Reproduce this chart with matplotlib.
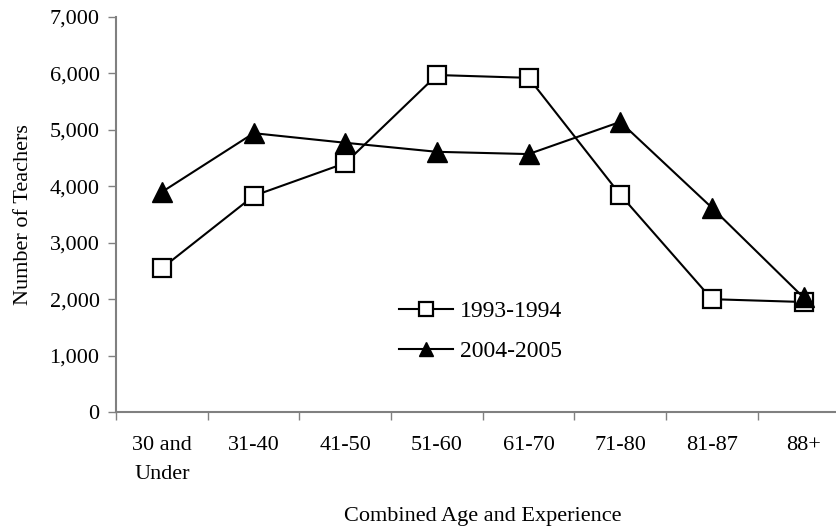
import matplotlib.pyplot as plt
from matplotlib.ticker import FuncFormatter, FixedLocator

# Data
categories = ['30 and\nUnder', '31-40', '41-50', '51-60', '61-70', '71-80', '81-87', '88+']
teachers_1993 = [2550, 3830, 4410, 5970, 5920, 3850, 2000, 1950]
teachers_2004 = [3900, 4940, 4770, 4610, 4570, 5140, 3620, 2030]

plt.rcParams['font.family'] = ['Liberation Serif', 'DejaVu Serif']

fig = plt.figure(figsize=(8.36, 5.27), dpi=100)
ax = fig.add_axes([0.139, 0.218, 0.877, 0.75])

x = range(len(categories))
ax.plot(x, teachers_1993, color='black', linewidth=1.5, marker='s', markersize=13.5,
        markerfacecolor='white', markeredgecolor='black', markeredgewidth=1.6,
        label='1993-1994', clip_on=False)
ax.plot(x, teachers_2004, color='black', linewidth=1.5, marker='^', markersize=15,
        markerfacecolor='black', markeredgecolor='black',
        label='2004-2005', clip_on=False)

ax.set_xlim(-0.5, len(categories) - 0.5)
ax.set_ylim(0, 7000)
ax.set_yticks(range(0, 7001, 1000))
ax.yaxis.set_major_formatter(FuncFormatter(lambda v, p: f'{int(v):,}'))

ax.set_xticks(list(x))
ax.set_xticklabels(categories, fontsize=16, linespacing=1.75)
ax.xaxis.set_minor_locator(FixedLocator([i - 0.5 for i in range(len(categories) + 1)]))
ax.tick_params(axis='x', which='major', length=0, pad=17)
ax.tick_params(axis='x', which='minor', length=6, width=1, color='#808080', direction='out')
ax.tick_params(axis='y', labelsize=16, length=6, width=1, color='#808080', pad=6)

for side in ['top', 'right']:
    ax.spines[side].set_visible(False)
for side in ['left', 'bottom']:
    ax.spines[side].set_color('#808080')
    ax.spines[side].set_linewidth(1.5)

ax.set_ylabel('Number of Teachers', fontsize=16, labelpad=12)
ax.set_xlabel('Combined Age and Experience', fontsize=16, va='center')
ax.xaxis.set_label_coords(0.5, -0.264)

ax.legend(loc='center', bbox_to_anchor=(0.497, 0.205), frameon=False, fontsize=17,
          handlelength=2.3, markerscale=0.7, labelspacing=0.78, handletextpad=0.3)

fig.savefig('out.png', dpi=100)
